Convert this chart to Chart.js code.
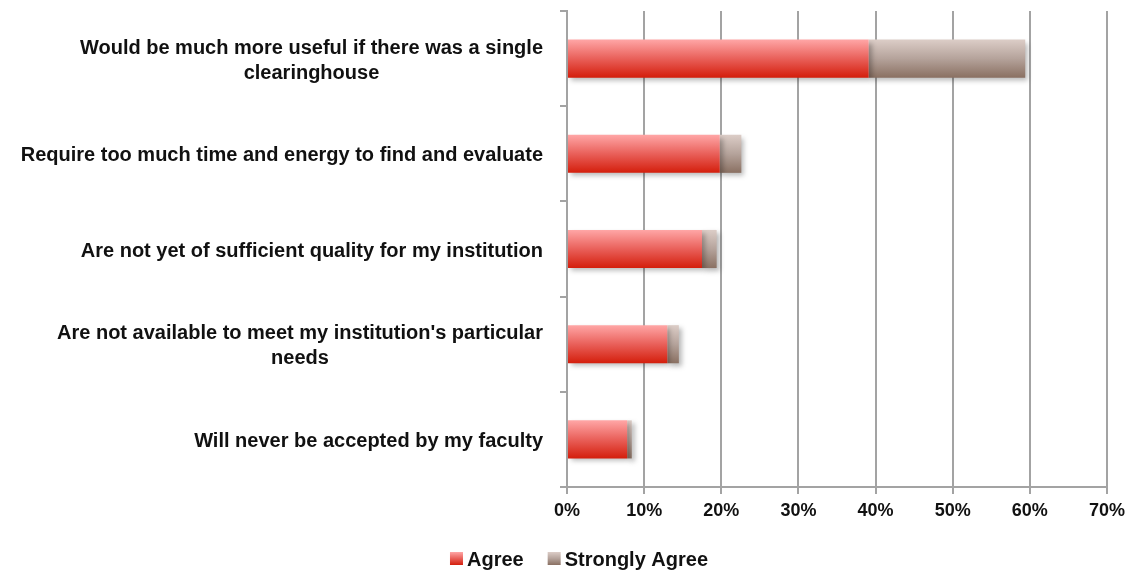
<!DOCTYPE html>
<html lang="en">
<head>
<meta charset="UTF-8">
<title>Clearinghouse survey</title>
<script src="https://cdn.jsdelivr.net/npm/chart.js"></script>
<style>
  html, body { margin: 0; padding: 0; background: #fff; }
  .wrap { width: 1140px; height: 571px; }
</style>
</head>
<body>
<div class="wrap"><canvas id="chart"></canvas></div>
<script>
// data
const categories = [
  ['Would be much more useful if there was a single', 'clearinghouse'],
  'Require too much time and energy to find and evaluate',
  'Are not yet of sufficient quality for my institution',
  ["Are not available to meet my institution's particular", 'needs'],
  'Will never be accepted by my faculty'
];
const agree = [39.1, 19.8, 17.5, 13.0, 7.8];
const stronglyAgree = [20.3, 2.8, 1.9, 1.5, 0.6];
const seriesNames = ['Agree', 'Strongly Agree'];

const FONT = '"Liberation Sans", Arial, sans-serif';
const gridGrey = '#a3a3a3';
const textCol = '#111';

const palettes = [
  ['#ffa6a6', '#e9605a', '#d41e0c'],
  ['#dccdc7', '#b5a39b', '#8a7062']
];

function makeGradient(c, y0, y1, p) {
  const g = c.createLinearGradient(0, y0, 0, y1);
  g.addColorStop(0, p[0]);
  g.addColorStop(0.5, p[1]);
  g.addColorStop(1, p[2]);
  return g;
}

function barGradient(idx) {
  return function(ctx) {
    const chart = ctx.chart;
    const p = palettes[idx];
    if (!chart.chartArea || !chart.scales.y) return p[1];
    const yc = chart.scales.y.getPixelForValue(ctx.dataIndex);
    return makeGradient(chart.ctx, yc - 19, yc + 19, p);
  };
}

// shadow under the bars
const barShadow = {
  id: 'barShadow',
  beforeDatasetsDraw(chart) {
    const c = chart.ctx;
    c.save();
    c.shadowColor = 'rgba(0,0,0,0.28)';
    c.shadowBlur = 5;
    c.shadowOffsetX = 3;
    c.shadowOffsetY = 3;
  },
  afterDatasetsDraw(chart) {
    chart.ctx.restore();
  }
};

// category labels: block right aligned, lines centred inside the block
const catLabels = {
  id: 'catLabels',
  afterDraw(chart) {
    const c = chart.ctx;
    const yScale = chart.scales.y;
    const right = yScale.right - 24;
    const lineH = 25;
    c.save();
    c.font = 'bold 20px ' + FONT;
    c.fillStyle = textCol;
    c.textAlign = 'center';
    c.textBaseline = 'middle';
    categories.forEach((lab, i) => {
      const lines = Array.isArray(lab) ? lab : [lab];
      const w = Math.max(...lines.map(l => c.measureText(l).width));
      const cx = right - w / 2;
      const yc = yScale.getPixelForValue(i) + 2;
      const y0 = yc - (lines.length - 1) * lineH / 2;
      lines.forEach((l, k) => c.fillText(l, cx, y0 + k * lineH));
    });
    c.restore();
  }
};

// legend at the bottom, small gradient squares next to the names
const bottomLegend = {
  id: 'bottomLegend',
  afterDraw(chart) {
    const c = chart.ctx;
    const box = 13, gap = 4, between = 24;
    const y = 559;
    c.save();
    c.font = 'bold 20px ' + FONT;
    c.textBaseline = 'middle';
    c.textAlign = 'left';
    const widths = seriesNames.map(n => c.measureText(n).width);
    let total = 0;
    widths.forEach((w, i) => { total += box + gap + w + (i ? between : 0); });
    let x = 579 - total / 2;
    seriesNames.forEach((n, i) => {
      c.fillStyle = makeGradient(c, y - 7, y + 6, palettes[i]);
      c.fillRect(x, y - 7, box, box);
      x += box + gap;
      c.fillStyle = textCol;
      c.fillText(n, x, y + 1);
      x += widths[i] + between;
    });
    c.restore();
  }
};

new Chart(document.getElementById('chart'), {
  type: 'bar',
  data: {
    labels: categories,
    datasets: [
      { label: seriesNames[0], data: agree, backgroundColor: barGradient(0) },
      { label: seriesNames[1], data: stronglyAgree, backgroundColor: barGradient(1) }
    ]
  },
  options: {
    indexAxis: 'y',
    responsive: true,
    maintainAspectRatio: false,
    animation: false,
    barPercentage: 0.4,
    categoryPercentage: 1,
    layout: { padding: { top: 11, right: 33, bottom: 0, left: 0 } },
    scales: {
      x: {
        stacked: true,
        min: 0,
        max: 70,
        ticks: {
          stepSize: 10,
          padding: 6,
          color: textCol,
          font: { family: FONT, size: 18, weight: 'bold' },
          callback: v => v + '%'
        },
        grid: { color: gridGrey, lineWidth: 2, tickLength: 7 },
        border: { color: gridGrey, width: 2 },
        afterFit(scale) { scale.height = 84; }
      },
      y: {
        stacked: true,
        ticks: { display: false },
        grid: { drawOnChartArea: false, offset: true, color: gridGrey, lineWidth: 2, tickLength: 7 },
        border: { color: gridGrey, width: 2 },
        afterFit(scale) { scale.width = 567; }
      }
    },
    plugins: {
      legend: { display: false },
      tooltip: { enabled: false }
    }
  },
  plugins: [barShadow, catLabels, bottomLegend]
});
</script>
</body>
</html>
